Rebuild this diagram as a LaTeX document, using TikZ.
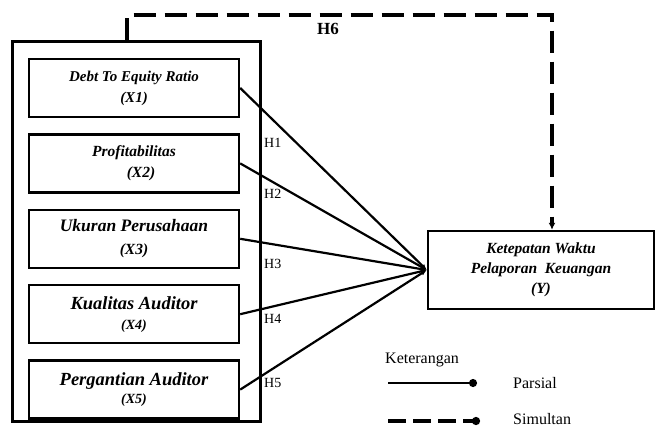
\documentclass[tikz,border=0pt]{standalone}
\usepackage{fontspec}
\setmainfont{Liberation Serif}
\usetikzlibrary{arrows.meta,positioning}
\tikzset{var/.style={draw,line width=2.4pt,minimum width=210pt,minimum height=58pt,align=center,font=\bfseries\itshape},group/.style={draw,line width=3pt,minimum width=248pt,minimum height=380pt},hyp/.style={font=\fontsize{14}{16}\selectfont,anchor=west,inner sep=0pt},parsial/.style={-{Latex[length=6pt,width=5pt]},line width=2.2pt},simul/.style={-{Latex[length=7pt,width=7pt]},line width=3.5pt,dash pattern=on 22pt off 9pt},legend/.style={font=\fontsize{16}{18}\selectfont,anchor=west,inner sep=0pt},tip/.style={-{Circle[length=8pt,width=8pt]}}}

\begin{document}
\begin{tikzpicture}[x=1pt,y=-1pt,node distance=15pt]
      \useasboundingbox (0,0) rectangle (660,429);
      \node[group](grp) at (136,231){};
      \node[var,font=\bfseries\itshape\fontsize{15}{21}\selectfont] (x1) at (134,88){Debt To Equity Ratio\\(X1)};
      \node[var,font=\bfseries\itshape\fontsize{15.5}{21}\selectfont,below=of x1](x2){Profitabilitas\\\hspace{14pt}(X2)};
      \node[var,font=\bfseries\itshape\fontsize{17.5}{23}\selectfont,below=of x2](x3){Ukuran Perusahaan\\{\fontsize{15.5}{23}\selectfont(X3)}};
      \node[var,font=\bfseries\itshape\fontsize{18.5}{20}\selectfont,below=of x3](x4){Kualitas Auditor\\{\fontsize{14}{20}\selectfont(X4)}};
      \node[var,font=\bfseries\itshape\fontsize{18.5}{18}\selectfont,below=of x4](x5){Pergantian Auditor\\{\fontsize{14}{18}\selectfont(X5)}};
      \node[var,minimum width=226pt,minimum height=78pt,font=\bfseries\itshape\fontsize{15.5}{20}\selectfont](y) at (541,270){Ketepatan Waktu\\Pelaporan\ \ Keuangan\\(Y)};
      % hipotesis parsial
      \foreach \i/\h in {1/143,2/194,3/264,4/319,5/383}{
        \draw[parsial](x\i.east)--(y.west);
        \node[hyp] (h\i) at (264,\h){H\i};
      }
      % hipotesis simultan
      \coordinate (top1) at (127,15);
      \coordinate (top2) at (552,15);
      \draw[simul](top1 |- grp.north)--(top1)--(top2)--(top2 |- y.north);
      \node[font=\bfseries\fontsize{17}{19}\selectfont] (h6) at (328,29){H6};
      % keterangan
      \node[legend] (ket) at (385,360){Keterangan};
      \coordinate (p1) at (388,383);
      \coordinate (p2) at (477,383);
      \coordinate (s1) at (388,421);
      \coordinate (s2) at (480,421);
      \draw[parsial,tip](p1)--(p2);
      \draw[simul,tip,dash pattern=on 18pt off 7pt](s1)--(s2);
      \node[legend] (par) at (513,383){Parsial};
      \node[legend] (sim) at (513,419){Simultan};
    \end{tikzpicture}
\end{document}
